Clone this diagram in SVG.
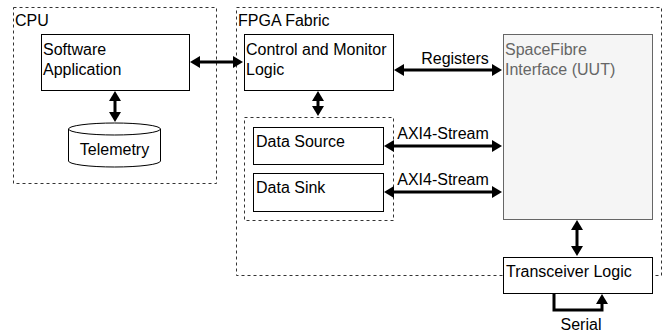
<svg xmlns="http://www.w3.org/2000/svg" width="670" height="336" viewBox="0 0 670 336">
<style>
text{font-family:"Liberation Sans",Arial,sans-serif;font-size:16px;fill:#000}
.box{fill:#fff;stroke:#000;stroke-width:1}
.dash{fill:none;stroke:#333;stroke-width:1;stroke-dasharray:3 3}
.arr{fill:none;stroke:#000;stroke-width:3;marker-end:url(#ah);marker-start:url(#ah)}
.one{fill:none;stroke:#000;stroke-width:3;marker-end:url(#ah)}
.mid{text-anchor:middle}
</style>
<defs>
<marker id="ah" markerUnits="userSpaceOnUse" markerWidth="10" markerHeight="12" refX="0" refY="6" orient="auto-start-reverse" overflow="visible">
<path d="M-1,0 L9,6 L-1,12 Z" fill="#000"/>
</marker>
</defs>
<rect width="670" height="336" fill="#fff"/>
<g id="cpu">
<rect class="dash" x="13.5" y="7.5" width="203" height="176"/>
<text x="15" y="26">CPU</text>
</g>
<g id="fpga">
<rect class="dash" x="236.5" y="7.5" width="425" height="268"/>
<text x="238" y="26">FPGA Fabric</text>
</g>
<g id="software">
<rect class="box" x="41.5" y="34.5" width="148" height="56"/>
<text x="43" y="55">Software</text>
<text x="43" y="75">Application</text>
</g>
<g id="telemetry">
<path class="box" d="M68.5,129 A46,6 0 0 1 160.5,129 V161 A46,6 0 0 1 68.5,161 Z"/>
<path fill="none" stroke="#000" d="M68.5,129 A46,6 0 0 0 160.5,129"/>
<text class="mid" x="114.5" y="155">Telemetry</text>
</g>
<g id="control">
<rect class="box" x="244.5" y="34.5" width="149" height="56"/>
<text x="246" y="55">Control and Monitor</text>
<text x="246" y="75">Logic</text>
</g>
<g id="datagroup">
<rect class="dash" x="244.5" y="117.5" width="149" height="103"/>
</g>
<g id="datasource">
<rect class="box" x="253.5" y="127.5" width="130" height="37"/>
<text x="256" y="147">Data Source</text>
</g>
<g id="datasink">
<rect class="box" x="253.5" y="173.5" width="130" height="38"/>
<text x="256" y="193">Data Sink</text>
</g>
<g id="spacefibre">
<rect x="503.5" y="34.5" width="149" height="185" fill="#f5f5f5" stroke="#666"/>
<text x="505" y="55" style="fill:#666">SpaceFibre</text>
<text x="505" y="75" style="fill:#666">Interface (UUT)</text>
</g>
<g id="transceiver">
<rect class="box" x="503.5" y="257.5" width="149" height="36"/>
<text x="506" y="277">Transceiver Logic</text>
</g>
<g id="connectors">
<path class="arr" d="M199,62 H234"/>
<path class="arr" d="M115,100 V113"/>
<path class="arr" d="M318,100 V107"/>
<path class="arr" d="M403,70 H493"/>
<path class="arr" d="M393,146 H493"/>
<path class="arr" d="M393,192 H493"/>
<path class="arr" d="M577,229 V247"/>
<path class="one" d="M554,293 V310 H602 V303"/>
<text class="mid" x="455" y="64">Registers</text>
<text class="mid" x="443" y="139">AXI4-Stream</text>
<text class="mid" x="443" y="185">AXI4-Stream</text>
<text class="mid" x="581" y="330">Serial</text>
</g>
</svg>
